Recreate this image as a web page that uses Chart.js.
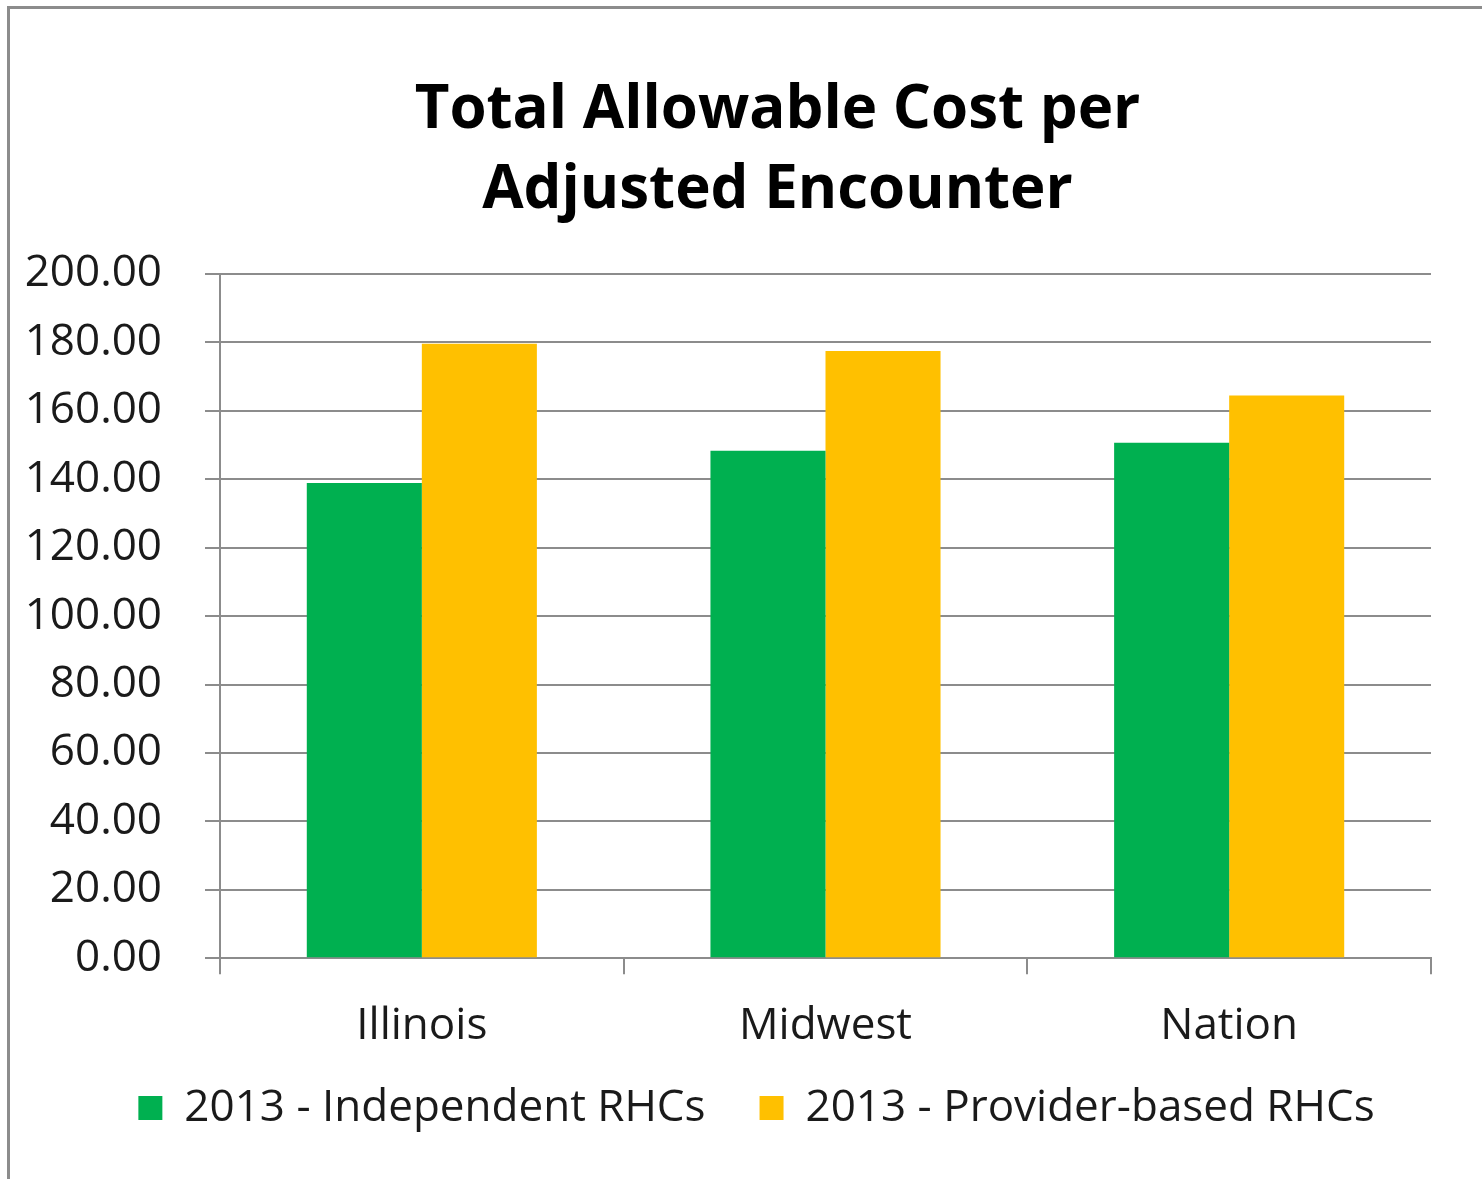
<!DOCTYPE html>
<html>
<head>
<meta charset="utf-8">
<title>Total Allowable Cost per Adjusted Encounter</title>
<script src="https://cdn.jsdelivr.net/npm/chart.js@4.4.1/dist/chart.umd.min.js"></script>
<style>
  html, body { margin: 0; padding: 0; background: #fff; }
  #wrap { position: relative; width: 1482px; height: 1179px; }
  #frame {
    position: absolute; left: 7px; top: 6px; right: -5px; bottom: -5px;
    border-left: 3px solid #8c8c8c; border-top: 3px solid #8c8c8c;
    pointer-events: none;
  }
  canvas { position: absolute; left: 0; top: 0; }
</style>
</head>
<body>
<div id="wrap">
  <canvas id="costChart" width="1482" height="1179"></canvas>
  <div id="frame"></div>
</div>
<script>
// datele graficului
const categories = ['Illinois', 'Midwest', 'Nation'];
const independentRHCs = [138.9, 148.3, 150.7];
const providerBasedRHCs = [179.6, 177.5, 164.5];
const seriesLabels = ['2013 - Independent RHCs', '2013 - Provider-based RHCs'];
const yTicks = [0, 20, 40, 60, 80, 100, 120, 140, 160, 180, 200];

const fontFamily = '"Open Sans", Lato, sans-serif';
const gridColor = '#8c8c8c';

// muta titlul si legenda, ca in original
const shiftBoxes = {
    id: 'shiftBoxes',
    afterLayout: function(chart) {
        const move = (box, dx, dy) => {
            if (!box) return;
            box.left += dx;
            box.right += dx;
            box.top += dy;
            box.bottom += dy;
        };
        move(chart.titleBlock, 58, 0);
        move(chart.legend, 37, -47);
    }
};

document.addEventListener('DOMContentLoaded', function() {
    var ctx = document.getElementById('costChart').getContext('2d');
    var costChart = new Chart(ctx, {
        type: 'bar',
        data: {
            labels: categories,
            datasets: [{
                label: seriesLabels[0],
                data: independentRHCs,
                backgroundColor: '#00B050'
            }, {
                label: seriesLabels[1],
                data: providerBasedRHCs,
                backgroundColor: '#FFC000'
            }]
        },
        options: {
            responsive: false,
            animation: false,
            layout: {
                padding: { left: 8, right: 51, top: 10, bottom: -8 }
            },
            datasets: {
                bar: { categoryPercentage: 0.57, barPercentage: 1.0 }
            },
            scales: {
                x: {
                    grid: {
                        offset: true,
                        drawOnChartArea: false,
                        drawTicks: true,
                        tickLength: 16,
                        color: gridColor,
                        lineWidth: 2
                    },
                    border: { color: gridColor, width: 2 },
                    ticks: {
                        color: '#1a1a1a',
                        font: { family: fontFamily, size: 44 },
                        padding: 26
                    }
                },
                y: {
                    min: 0,
                    max: 200,
                    afterBuildTicks: function(scale) {
                        scale.ticks = yTicks.map(v => ({ value: v }));
                    },
                    afterFit: function(scale) {
                        scale.width = 212;
                    },
                    grid: {
                        color: gridColor,
                        lineWidth: 2,
                        tickLength: 15
                    },
                    border: { color: gridColor, width: 2 },
                    ticks: {
                        color: '#1a1a1a',
                        font: { family: fontFamily, size: 44 },
                        padding: 43,
                        callback: function(value) {
                            return Number(value).toFixed(2);
                        }
                    }
                }
            },
            plugins: {
                title: {
                    display: true,
                    text: ['Total Allowable Cost per', 'Adjusted Encounter'],
                    color: '#000',
                    font: { family: fontFamily, size: 60, weight: 'bold', lineHeight: 1.333 },
                    padding: { top: 61, bottom: 43 }
                },
                legend: {
                    position: 'bottom',
                    labels: {
                        color: '#1a1a1a',
                        font: { family: fontFamily, size: 44 },
                        boxWidth: 24,
                        boxHeight: 24,
                        padding: 54
                    }
                },
                tooltip: { enabled: false }
            }
        },
        plugins: [shiftBoxes]
    });
});
</script>
</body>
</html>
